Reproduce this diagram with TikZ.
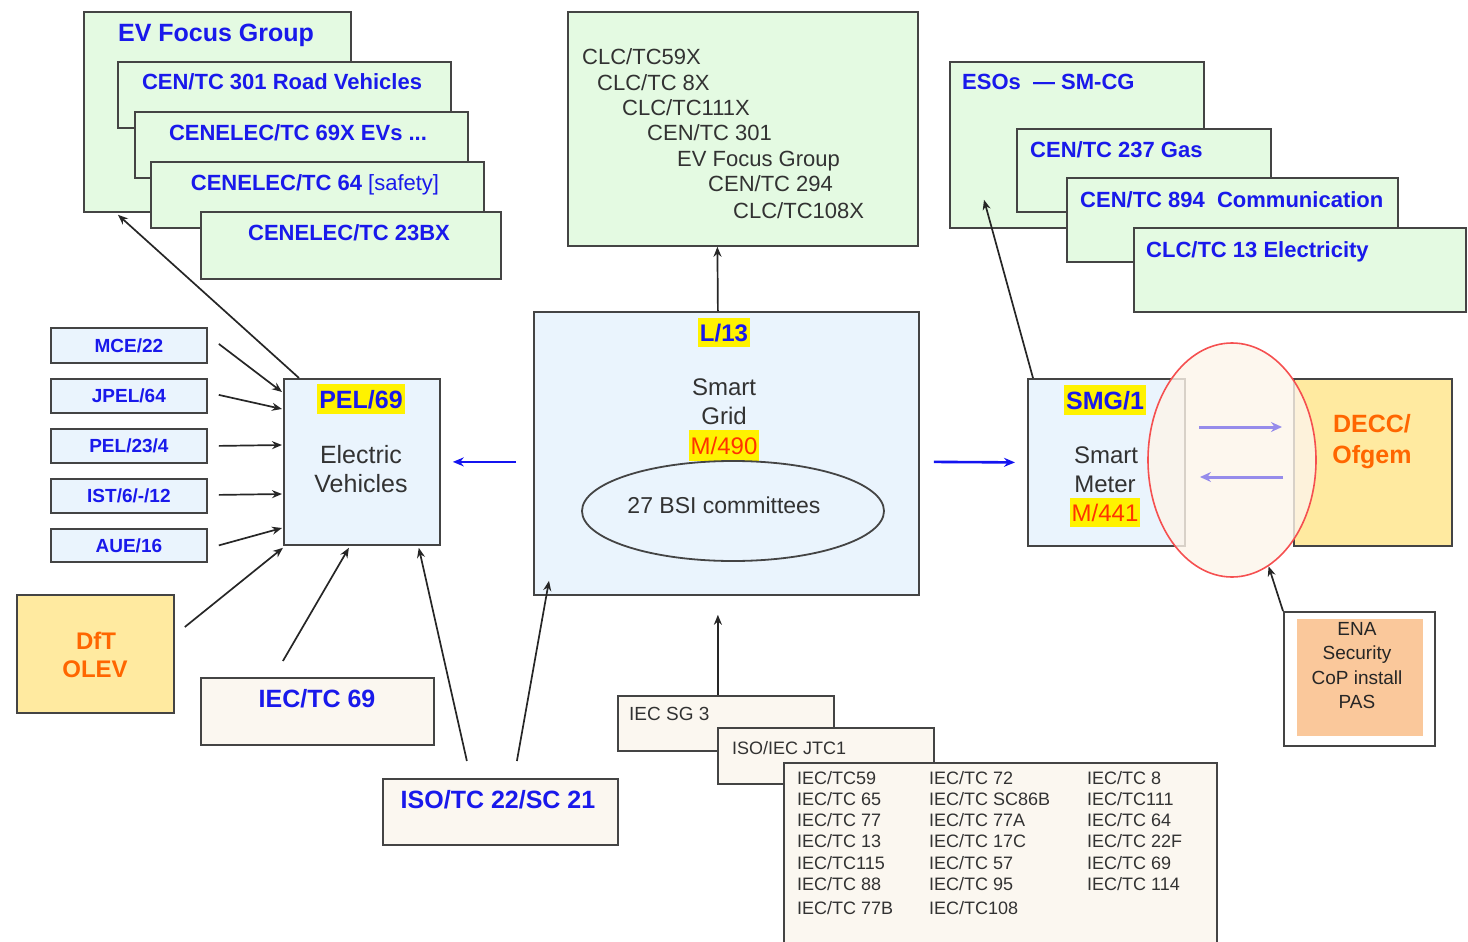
\documentclass[tikz,border=0pt]{standalone}
\usepackage{fontspec}
\setmainfont{Liberation Sans}
\usetikzlibrary{shapes,arrows,arrows.meta,positioning,calc}

\definecolor{edgegray}{RGB}{68,68,68}
\definecolor{boxgreen}{RGB}{228,250,226}
\definecolor{boxblue}{RGB}{234,244,253}
\definecolor{boxcream}{RGB}{251,247,240}
\definecolor{boxyellow}{RGB}{255,234,160}
\definecolor{boxorange}{RGB}{250,200,155}
\definecolor{txtblue}{RGB}{25,25,235}
\definecolor{txtgray}{RGB}{50,50,50}
\definecolor{txtorange}{RGB}{255,102,0}
\definecolor{txtred}{RGB}{255,51,0}
\definecolor{arrowblue}{RGB}{20,20,240}
\definecolor{arrowpurple}{RGB}{150,140,235}
\definecolor{ringred}{RGB}{245,80,80}
\definecolor{ringfill}{RGB}{253,245,234}

\begin{document}
\begin{tikzpicture}[x=1pt, y=-1pt,
    box/.style={rectangle, draw=edgegray, line width=1.8pt, anchor=north west, inner sep=0pt},
    gbox/.style={box, fill=boxgreen},
    bbox/.style={box, fill=boxblue},
    cbox/.style={box, fill=boxcream},
    ybox/.style={box, fill=boxyellow},
    small/.style={bbox, minimum width=156pt, text=txtblue, font=\fontsize{19}{22}\selectfont\bfseries},
    hd/.style={anchor=base, inner sep=0pt, text=txtblue, font=\fontsize{25}{30}\selectfont\bfseries},
    sub/.style={anchor=base west, inner sep=0pt, text=txtblue, font=\fontsize{22}{26}\selectfont\bfseries},
    txt/.style={anchor=base west, inner sep=0pt, text=txtgray, font=\fontsize{22}{26}\selectfont},
    big/.style={anchor=base, inner sep=0pt, text=txtgray, font=\fontsize{24}{29}\selectfont},
    hl/.style={fill=yellow, inner xsep=2pt, inner ysep=5.5pt},
    arr/.style={-{Stealth[length=10pt,width=8pt]}, line width=1.7pt, draw=black!85},
    barr/.style={-{Stealth[length=11pt,width=9pt]}, line width=2.6pt, draw=arrowblue},
    parr/.style={-{Stealth[length=11pt,width=10pt]}, line width=3pt, draw=arrowpurple}
]
\useasboundingbox (0,0) rectangle (1468,942);

% EV stack
\node[gbox, minimum width=267pt, minimum height=200pt] (evfg) at (83,11) {};
\node[hd] (evfgt) at (216,42) {EV Focus Group};
\node[gbox, minimum width=333pt, minimum height=66pt] (cen301) at (117,61) {};
\node[sub, anchor=base] (cen301t) at (282,90) {CEN/TC 301 Road Vehicles};
\node[gbox, minimum width=333pt, minimum height=66pt] (tc69x) at (134,111) {};
\node[sub, anchor=base] (tc69xt) at (298,140) {CENELEC/TC 69X EVs ...};
\node[gbox, minimum width=333pt, minimum height=66pt] (tc64) at (150,161) {};
\node[sub, anchor=base] (tc64t) at (315,190) {CENELEC/TC 64 {\mdseries [safety]}};
\node[gbox, minimum width=300pt, minimum height=67pt] (tc23) at (200,211) {};
\node[sub, anchor=base] (tc23t) at (349,240) {CENELEC/TC 23BX};

% CLC list
\node[gbox, minimum width=350pt, minimum height=234pt] (clc) at (567,11) {};
\node[txt] (clc1) at (582,65) {CLC/TC59X};
\node[txt] (clc2) at (597,91) {CLC/TC 8X};
\node[txt] (clc3) at (622,115) {CLC/TC111X};
\node[txt] (clc4) at (647,140) {CEN/TC 301};
\node[txt] (clc5) at (677,166) {EV Focus Group};
\node[txt] (clc6) at (708,191) {CEN/TC 294};
\node[txt] (clc7) at (733,218) {CLC/TC108X};

% ESO stack
\node[gbox, minimum width=254pt, minimum height=166pt] (esos) at (949,61) {};
\node[sub] (esost) at (962,90) {ESOs \ — SM-CG};
\node[gbox, minimum width=254pt, minimum height=83pt] (tc237) at (1016,128) {};
\node[sub] (tc237t) at (1030,157) {CEN/TC 237 Gas};
\node[gbox, minimum width=331pt, minimum height=84pt] (tc894) at (1066,177) {};
\node[sub] (tc894t) at (1080,207) {CEN/TC 894 \ Communication};
\node[gbox, minimum width=332pt, minimum height=84pt] (tc13) at (1133,227) {};
\node[sub] (tc13t) at (1146,257) {CLC/TC 13 Electricity};

% left column
\node[small, minimum height=35pt] (mce) at (50,327) {MCE/22};
\node[small, minimum height=34pt] (jpel) at (50,378) {JPEL/64};
\node[small, minimum height=34pt] (pel23) at (50,428) {PEL/23/4};
\node[small, minimum height=34pt] (ist) at (50,478) {IST/6/-/12};
\node[small, minimum height=33pt] (aue) at (50,528) {AUE/16};

% PEL/69
\node[bbox, minimum width=156pt, minimum height=166pt] (pev) at (283,378) {};
\node[hd, hl] (pevt) at (361,408) {PEL/69};
\node[big, font=\fontsize{25}{30}\selectfont] (pev1) at (361,463) {Electric};
\node[big, font=\fontsize{25}{30}\selectfont] (pev2) at (361,492) {Vehicles};

\node[ybox, minimum width=157pt, minimum height=118pt] (dft) at (16,594) {};
\node[hd, text=txtorange, font=\fontsize{24}{29}\selectfont\bfseries] (dft1) at (96,649) {DfT};
\node[hd, text=txtorange, font=\fontsize{24}{29}\selectfont\bfseries] (dft2) at (95,677) {OLEV};

\node[cbox, minimum width=233pt, minimum height=67pt] (iec69) at (200,677) {};
\node[hd] (iec69t) at (317,707) {IEC/TC 69};
\node[cbox, minimum width=235pt, minimum height=66pt] (iso) at (382,778) {};
\node[hd] (isot) at (498,808) {ISO/TC 22/SC 21};

% L/13
\node[bbox, minimum width=385pt, minimum height=283pt] (l13) at (533,311) {};
\node[hd, hl, font=\fontsize{24}{29}\selectfont\bfseries] (l13t) at (724,341) {L/13};
\node[big] (sg1) at (724,395) {Smart};
\node[big] (sg2) at (724,424) {Grid};
\node[big, hl, text=txtred, inner ysep=6.5pt] (m490) at (724,454) {M/490};
\node[ellipse, draw=edgegray, line width=1.8pt, minimum width=302pt, minimum height=100pt, inner sep=0pt] (bsi) at (733,511) {};
\node[big, font=\fontsize{23}{28}\selectfont] (bsit) at (724,513) {27 BSI committees};

% smart meter
\node[bbox, minimum width=157pt, minimum height=167pt] (smg) at (1027,378) {};
\node[hd, hl] (smgt) at (1105,409) {SMG/1};
\node[big] (sm1) at (1106,463) {Smart};
\node[big] (sm2) at (1105,492) {Meter};
\node[big, hl, text=txtred, inner ysep=6pt] (m441) at (1105,521) {M/441};
\node[ybox, minimum width=158pt, minimum height=167pt] (decc) at (1293,378) {};
\node[hd, text=txtorange] (decc1) at (1372,432) {DECC/};
\node[hd, text=txtorange] (decc2) at (1372,463) {Ofgem};
\node[ellipse, draw=ringred, line width=1.6pt, fill=ringfill, fill opacity=0.8, minimum width=168pt, minimum height=234pt, inner sep=0pt] (ring) at (1232,460) {};

\node[box, fill=white, minimum width=151pt, minimum height=134pt] (ena) at (1283,611) {};
\node[box, draw=none, fill=boxorange, minimum width=126pt, minimum height=117pt] (enain) at (1296,618) {};
\node[big, font=\fontsize{19}{23}\selectfont, text=black!85] (ena1) at (1357,635) {ENA};
\node[big, font=\fontsize{19}{23}\selectfont, text=black!85] (ena2) at (1357,659) {Security};
\node[big, font=\fontsize{19}{23}\selectfont, text=black!85] (ena3) at (1357,684) {CoP install};
\node[big, font=\fontsize{19}{23}\selectfont, text=black!85] (ena4) at (1357,708) {PAS};

% IEC stack
\node[cbox, minimum width=216pt, minimum height=55pt] (sg3) at (617,695) {};
\node[txt, font=\fontsize{19}{23}\selectfont] (sg3t) at (629,720) {IEC SG 3};
\node[cbox, minimum width=216pt, minimum height=56pt] (jtc1) at (717,727) {};
\node[txt, font=\fontsize{18}{22}\selectfont] (jtc1t) at (732,754) {ISO/IEC JTC1};
\node[cbox, minimum width=433pt, minimum height=190pt] (ieclist) at (783,762) {};
\node[txt, font=\fontsize{18}{21.3}\selectfont] (iectab) at (797,784) {%
  \begin{tabular}[t]{@{}p{132pt}@{}p{158pt}@{}l@{}}
  IEC/TC59 & IEC/TC 72 & IEC/TC 8\\
  IEC/TC 65 & IEC/TC SC86B & IEC/TC111\\
  IEC/TC 77 & IEC/TC 77A & IEC/TC 64\\
  IEC/TC 13 & IEC/TC 17C & IEC/TC 22F\\
  IEC/TC115 & IEC/TC 57 & IEC/TC 69\\
  IEC/TC 88 & IEC/TC 95 & IEC/TC 114\\[3pt]
  IEC/TC 77B & IEC/TC108 &
  \end{tabular}};

% connectors
\draw[arr] ($(pev.north west)+(16,0)$) -- ($(evfg.south west)+(35,2)$);
\draw[arr] ($(mce.east)+(11,-1.5)$) -- ($(pev.north west)+(-1,14)$);
\draw[arr] ($(jpel.east)+(11,-1)$) -- ($(pev.north west)+(-1,31)$);
\draw[arr] ($(pel23.east)+(11,0)$) -- ($(pev.north west)+(-1,67)$);
\draw[arr] ($(ist.east)+(11,-1)$) -- ($(pev.north west)+(-1,116)$);
\draw[arr] ($(aue.east)+(11,0)$) -- ($(pev.north west)+(-1,150)$);
\draw[arr] ($(dft.north east)+(10,33)$) -- ($(pev.south west)+(0,2)$);
\draw[arr] ($(iec69.north)+(-34.5,-16)$) -- ($(pev.south)+(-13,2)$);
\draw[arr] ($(iso.north)+(-33.5,-17)$) -- ($(pev.south east)+(-22,2)$);
\draw[arr] ($(iso.north)+(16.5,-17)$) -- ($(l13.south west)+(16,-15)$);
\draw[arr] ($(l13.north)+(-8.5,0)$) -- ($(clc.south)+(-25.5,0)$);
\draw[arr] ($(sg3.north)+(-8,0)$) -- ($(l13.south)+(-8.5,19)$);
\draw[arr] ($(smg.north west)+(6,0)$) -- ($(esos.south west)+(35,-29)$);
\draw[arr] (ena.north west) -- (ring.-71);

\draw[barr] ($(l13.west)+(-17,8.5)$) -- ($(pev.east)+(12,0)$);
\draw[barr] ($(l13.east)+(14,8.5)$) -- ($(smg.west)+(-12,0)$);
\draw[parr] ($(ring.center)+(-33,-33)$) -- ($(ring.center)+(50,-33)$);
\draw[parr] ($(ring.center)+(51,17)$) -- ($(ring.center)+(-32,17)$);

\end{tikzpicture}
\end{document}
